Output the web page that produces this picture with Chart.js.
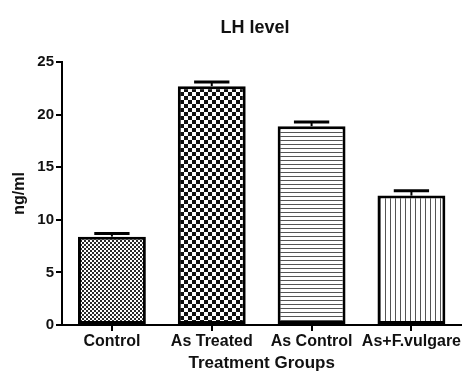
<!DOCTYPE html>
<html>
<head>
<meta charset="utf-8">
<script src="https://cdn.jsdelivr.net/npm/chart.js@4/dist/chart.umd.min.js"></script>
<style>
html,body{margin:0;padding:0;background:#fff;}
canvas{display:block;}
</style>
</head>
<body>
<canvas id="c" width="462" height="374"></canvas>
<script>
const categories = ["Control", "As Treated", "As Control", "As+F.vulgare"];
const lhMeans = [8.4, 22.7, 18.9, 12.3];
const lhErrors = [0.3, 0.4, 0.4, 0.45];
const yTicks = [0, 5, 10, 15, 20, 25];
const chartTitle = "LH level";
const yTitle = "ng/ml";
const xTitle = "Treatment Groups";

const FONT = '"Liberation Sans", Arial, sans-serif';

function makePattern(kind) {
  const c = document.createElement('canvas');
  const g = c.getContext('2d');
  if (kind === 'fineChecker') {
    c.width = 4; c.height = 4;
    g.fillStyle = '#fff'; g.fillRect(0,0,4,4);
    g.fillStyle = '#2a2a2a';
    g.fillRect(0,0,2,2); g.fillRect(2,2,2,2);
  } else if (kind === 'coarseChecker') {
    c.width = 8; c.height = 8;
    g.fillStyle = '#fff'; g.fillRect(0,0,8,8);
    g.fillStyle = '#111';
    g.fillRect(0,0,4,4); g.fillRect(4,4,4,4);
  } else if (kind === 'hLines') {
    c.width = 4; c.height = 4;
    g.fillStyle = '#fff'; g.fillRect(0,0,4,4);
    g.fillStyle = '#555';
    g.fillRect(0,0,4,1);
  } else {
    c.width = 5; c.height = 5;
    g.fillStyle = '#fff'; g.fillRect(0,0,5,5);
    g.fillStyle = '#555';
    g.fillRect(0,0,1,5);
  }
  return document.getElementById('c').getContext('2d').createPattern(c, 'repeat');
}

const patterns = [makePattern('fineChecker'), makePattern('coarseChecker'), makePattern('hLines'), makePattern('vLines')];

const errorBarPlugin = {
  id: 'errorBars',
  afterDatasetsDraw(chart) {
    const ctx = chart.ctx;
    const meta = chart.getDatasetMeta(0);
    const y = chart.scales.y;
    ctx.save();
    ctx.strokeStyle = '#000';
    meta.data.forEach((bar, i) => {
      const top = y.getPixelForValue(lhMeans[i]);
      const hi = y.getPixelForValue(lhMeans[i] + lhErrors[i]);
      const half = bar.width * 0.26;
      ctx.lineWidth = 2;
      ctx.beginPath();
      ctx.moveTo(bar.x, top);
      ctx.lineTo(bar.x, hi);
      ctx.stroke();
      ctx.lineWidth = 3;
      ctx.beginPath();
      ctx.moveTo(bar.x - half, hi);
      ctx.lineTo(bar.x + half, hi);
      ctx.stroke();
    });
    ctx.restore();
  }
};

const titlePlugin = {
  id: 'customTitle',
  afterDraw(chart) {
    const ctx = chart.ctx;
    ctx.save();
    ctx.font = 'bold 18px ' + FONT;
    ctx.fillStyle = '#111';
    ctx.textAlign = 'center';
    ctx.textBaseline = 'middle';
    ctx.fillText(chartTitle, 255, 28);
    ctx.restore();
  }
};

new Chart(document.getElementById('c'), {
  type: 'bar',
  data: {
    labels: categories,
    datasets: [{
      data: lhMeans,
      backgroundColor: patterns,
      borderColor: '#000',
      borderWidth: 3,
      borderSkipped: false,
      barPercentage: 0.68,
      categoryPercentage: 1.0
    }]
  },
  options: {
    responsive: false,
    animation: false,
    layout: { padding: { top: 62, right: 0, left: 0, bottom: 0 } },
    plugins: { legend: { display: false }, title: { display: false }, tooltip: { enabled: false } },
    scales: {
      x: {
        offset: true,
        grid: { display: true, drawOnChartArea: false, offset: false, tickLength: 6, color: '#000', lineWidth: 2 },
        border: { display: true, color: '#000', width: 2 },
        ticks: { color: '#111', font: { family: FONT, size: 16, weight: 'bold' }, padding: 1, maxRotation: 0, autoSkip: false },
        title: { display: true, text: xTitle, color: '#111', font: { family: FONT, size: 17, weight: 'bold' }, padding: { top: -2, bottom: 0 } },
        afterFit(s) { s.height = 49; }
      },
      y: {
        min: 0, max: 25,
        afterBuildTicks(s) { s.ticks = yTicks.map(v => ({ value: v })); },
        grid: { display: true, drawOnChartArea: false, tickLength: 6, color: '#000', lineWidth: 2 },
        border: { display: true, color: '#000', width: 2 },
        ticks: { color: '#111', font: { family: FONT, size: 15, weight: 'bold' }, padding: 2 },
        title: { display: true, text: yTitle, color: '#111', font: { family: FONT, size: 16, weight: 'bold' }, padding: { top: 10, bottom: 0 } },
        afterFit(s) { s.width = 62; }
      }
    }
  },
  plugins: [errorBarPlugin, titlePlugin]
});
</script>
</body>
</html>
